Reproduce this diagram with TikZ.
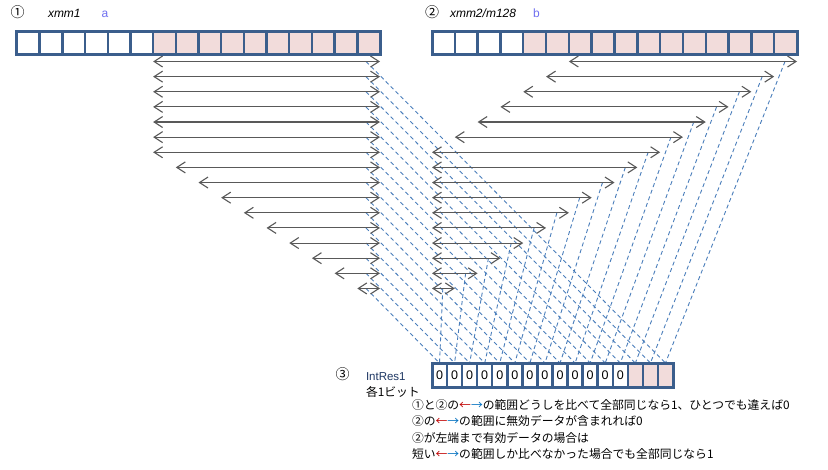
\documentclass[tikz,border=0pt]{standalone}
\usepackage{fontspec}
\setmainfont{Liberation Sans}
\newfontfamily\jp{Noto Sans CJK JP}
\usetikzlibrary{arrows.meta}
\definecolor{regblue}{RGB}{59,94,140}
\definecolor{pinkfill}{RGB}{242,220,219}
\definecolor{arrgray}{RGB}{89,89,89}
\definecolor{dashblue}{RGB}{74,126,187}
\definecolor{labblue}{RGB}{112,112,240}
\definecolor{navytxt}{RGB}{31,56,100}
\definecolor{jred}{RGB}{192,0,0}
\definecolor{jblue}{RGB}{0,112,192}
\begin{document}
\begin{tikzpicture}[x=1pt,y=-1pt,
  cellA/.style={draw=regblue, line width=2.4pt, inner sep=0pt, outer sep=0pt,
    minimum width=22.69pt, minimum height=23pt},
  cellB/.style={cellA, minimum width=22.81pt},
  cellC/.style={draw=regblue, line width=2.4pt, inner sep=0pt, outer sep=0pt,
    minimum width=15.06pt, minimum height=24pt, font=\fontsize{12.5pt}{14pt}\selectfont},
  frame/.style={draw=regblue, line width=3pt},
  dbl/.style={arrgray, line width=1.1pt,
    {Straight Barb[length=8.5pt,width=11pt]}-{Straight Barb[length=8.5pt,width=11pt]}},
  dsh/.style={dashblue, line width=0.9pt, dash pattern=on 4pt off 3pt},
  lbl/.style={inner sep=0pt, outer sep=0pt, text height=8.5pt, text depth=2.5pt,
    font=\fontsize{12pt}{14pt}\selectfont},
  circ/.style={lbl, font=\fontsize{14pt}{16pt}\selectfont\jp},
  jtxt/.style={lbl, anchor=west, font=\fontsize{11.8pt}{14pt}\selectfont\jp}
]
\useasboundingbox (0,0) rectangle (828,469);
\fill[white] (0,0) rectangle (828,469);

% result register
\foreach \j in {0,...,15}{
  \pgfmathsetmacro\cx{432+15.0625*(\j+0.5)}
  \ifnum\j<13
    \node[cellC, fill=white] (r\j) at (\cx,375) {0};
  \else
    \node[cellC, fill=pinkfill] (r\j) at (\cx,375) {};
  \fi
}

% rows: coordinates, dashed lines, arrows
\foreach \i in {0,...,15}{
  \pgfmathsetmacro\y{61.5+15.13*\i}
  \pgfmathtruncatemacro\lc{6+max(0,\i-6)}
  \pgfmathsetmacro\lx{17+22.6875*\lc}
  \pgfmathtruncatemacro\rl{max(0,6-\i)}
  \pgfmathsetmacro\rlx{432+22.8125*\rl}
  \pgfmathsetmacro\rrx{432+22.8125*(16-\i)}
  \pgfmathsetmacro\rsx{\rrx-12}
  \pgfmathtruncatemacro\j{15-\i}
  \coordinate (la\i) at (\lx,\y);
  \coordinate (lb\i) at (380,\y);
  \coordinate (ls\i) at (366,\y);
  \coordinate (ra\i) at (\rlx,\y);
  \coordinate (rb\i) at (\rrx,\y);
  \coordinate (rs\i) at (\rsx,\y);
  \draw[dsh] (ls\i) -- (r\j.north);
  \draw[dsh] (rs\i) -- (r\j.north);
}
\foreach \i in {0,...,15}{
  \draw[dbl] (la\i) -- (lb\i);
  \draw[dbl] (ra\i) -- (rb\i);
}

% register 1 (xmm1)
\foreach \k in {0,...,15}{
  \pgfmathsetmacro\cx{17+22.6875*(\k+0.5)}
  \ifnum\k<6
    \node[cellA, fill=white] (a\k) at (\cx,42.5) {};
  \else
    \node[cellA, fill=pinkfill] (a\k) at (\cx,42.5) {};
  \fi
}
\draw[frame] (a0.north west) rectangle (a15.south east);

% register 2 (xmm2/m128)
\foreach \k in {0,...,15}{
  \pgfmathsetmacro\cx{432+22.8125*(\k+0.5)}
  \ifnum\k<4
    \node[cellB, fill=white] (b\k) at (\cx,42.5) {};
  \else
    \node[cellB, fill=pinkfill] (b\k) at (\cx,42.5) {};
  \fi
}
\draw[frame] (b0.north west) rectangle (b15.south east);
\draw[frame] (r0.north west) rectangle (r15.south east);

% labels
\node[circ] (n1) at (17.5,14) {①};
\node[lbl, anchor=west, font=\fontsize{12pt}{14pt}\selectfont\itshape] (x1) at (48,14) {xmm1};
\node[lbl, text=labblue] (la) at (105,14) {a};
\node[circ] (n2) at (432,14) {②};
\node[lbl, anchor=west, font=\fontsize{12pt}{14pt}\selectfont\itshape] (x2) at (450,14) {xmm2/m128};
\node[lbl, text=labblue] (lbb) at (536.5,14) {b};

\node[circ] (n3) at (342.5,376.5) {③};
\node[lbl, anchor=west, text=navytxt, font=\fontsize{11.5pt}{13pt}\selectfont] (ir) at (366,377) {IntRes1};
\node[jtxt] (bit) at (366,393.5) {各1ビット};

\node[jtxt] (t1) at (412,406) {①と②の{\color{jred}←}{\color{jblue}→}の範囲どうしを比べて全部同じなら1、ひとつでも違えば0};
\node[jtxt] (t2) at (412,422.5) {②の{\color{jred}←}{\color{jblue}→}の範囲に無効データが含まれれば0};
\node[jtxt] (t3) at (412,439) {②が左端まで有効データの場合は};
\node[jtxt] (t4) at (412,455.5) {短い{\color{jred}←}{\color{jblue}→}の範囲しか比べなかった場合でも全部同じなら1};
\end{tikzpicture}
\end{document}
